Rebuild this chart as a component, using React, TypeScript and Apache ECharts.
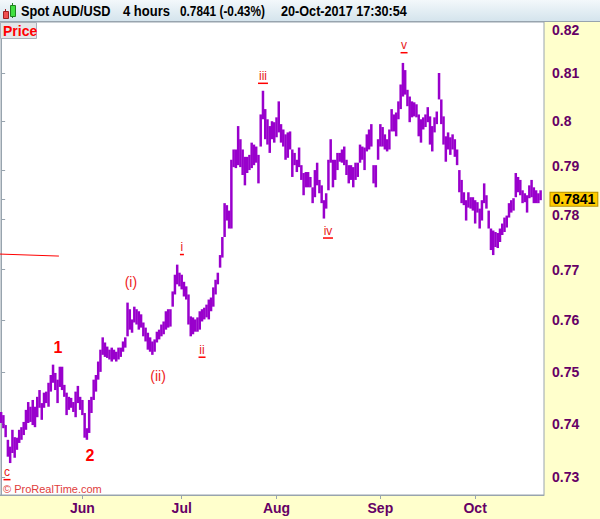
import React, { useEffect, useRef } from 'react';
import * as echarts from 'echarts';

// 12-hour high/low bars (AUD/USD, 8 May – 20 Oct 2017)
const barHighs = [
  0.7423, 0.7417, 0.7398, 0.7370, 0.7357, 0.7389, 0.7375, 0.7374, 0.7389, 0.7394,
  0.7404, 0.7427, 0.7442, 0.7433, 0.7446, 0.7433, 0.7452, 0.7465, 0.7440, 0.7460,
  0.7462, 0.7479, 0.7494, 0.7514, 0.7498, 0.7485, 0.7510, 0.7510, 0.7475, 0.7460,
  0.7452, 0.7450, 0.7442, 0.7462, 0.7473, 0.7452, 0.7446, 0.7421, 0.7392, 0.7446,
  0.7452, 0.7485, 0.7494, 0.7520, 0.7543, 0.7567, 0.7557, 0.7549, 0.7543, 0.7547,
  0.7543, 0.7539, 0.7547, 0.7547, 0.7559, 0.7567, 0.7635, 0.7622, 0.7602, 0.7627,
  0.7622, 0.7618, 0.7612, 0.7596, 0.7586, 0.7576, 0.7567, 0.7559, 0.7563, 0.7578,
  0.7582, 0.7592, 0.7598, 0.7618, 0.7622, 0.7622, 0.7657, 0.7690, 0.7710, 0.7694,
  0.7690, 0.7676, 0.7667, 0.7651, 0.7608, 0.7606, 0.7602, 0.7606, 0.7618, 0.7622,
  0.7625, 0.7631, 0.7641, 0.7645, 0.7665, 0.7680, 0.7694, 0.7729, 0.7765, 0.7833,
  0.7829, 0.7818, 0.7921, 0.7942, 0.7942, 0.7990, 0.7963, 0.7942, 0.7927, 0.7927,
  0.7931, 0.7956, 0.7952, 0.7948, 0.7931, 0.8014, 0.8063, 0.8025, 0.8004, 0.7990,
  0.8000, 0.7998, 0.8008, 0.8041, 0.7994, 0.7983, 0.7973, 0.7977, 0.7979, 0.7942,
  0.7935, 0.7921, 0.7946, 0.7910, 0.7894, 0.7896, 0.7896, 0.7886, 0.7865, 0.7900,
  0.7915, 0.7880, 0.7869, 0.7839, 0.7853, 0.7921, 0.7963, 0.7921, 0.7921, 0.7935,
  0.7935, 0.7942, 0.7948, 0.7921, 0.7910, 0.7910, 0.7906, 0.7915, 0.7915, 0.7952,
  0.7948, 0.7946, 0.7973, 0.7983, 0.7994, 0.7910, 0.7910, 0.7963, 0.7994, 0.7988,
  0.7973, 0.7963, 0.7983, 0.8025, 0.8014, 0.8018, 0.8041, 0.8076, 0.8121, 0.8106,
  0.8065, 0.8051, 0.8041, 0.8039, 0.8035, 0.8014, 0.8004, 0.8008, 0.8014, 0.8029,
  0.8010, 0.7990, 0.8008, 0.8020, 0.8100, 0.8045, 0.8010, 0.7969, 0.7977, 0.7967,
  0.7973, 0.7963, 0.7942, 0.7900, 0.7880, 0.7855, 0.7839, 0.7855, 0.7845, 0.7845,
  0.7839, 0.7835, 0.7822, 0.7839, 0.7873, 0.7849, 0.7818, 0.7782, 0.7778, 0.7775,
  0.7773, 0.7782, 0.7792, 0.7804, 0.7808, 0.7833, 0.7839, 0.7843, 0.7894, 0.7886,
  0.7880, 0.7859, 0.7853, 0.7849, 0.7869, 0.7880, 0.7865, 0.7859, 0.7853, 0.7859,
];
const barLows = [
  0.7402, 0.7392, 0.7375, 0.7338, 0.7326, 0.7345, 0.7336, 0.7351, 0.7364, 0.7370,
  0.7379, 0.7389, 0.7402, 0.7404, 0.7398, 0.7394, 0.7413, 0.7431, 0.7408, 0.7431,
  0.7440, 0.7433, 0.7462, 0.7479, 0.7465, 0.7440, 0.7471, 0.7465, 0.7452, 0.7417,
  0.7427, 0.7431, 0.7423, 0.7413, 0.7440, 0.7427, 0.7417, 0.7374, 0.7370, 0.7383,
  0.7421, 0.7446, 0.7462, 0.7485, 0.7500, 0.7533, 0.7529, 0.7527, 0.7524, 0.7520,
  0.7524, 0.7520, 0.7524, 0.7529, 0.7539, 0.7547, 0.7569, 0.7582, 0.7576, 0.7596,
  0.7592, 0.7582, 0.7586, 0.7569, 0.7559, 0.7543, 0.7539, 0.7533, 0.7539, 0.7557,
  0.7563, 0.7569, 0.7573, 0.7582, 0.7586, 0.7588, 0.7627, 0.7651, 0.7671, 0.7667,
  0.7661, 0.7647, 0.7641, 0.7592, 0.7569, 0.7573, 0.7578, 0.7578, 0.7582, 0.7598,
  0.7602, 0.7606, 0.7602, 0.7618, 0.7627, 0.7651, 0.7671, 0.7704, 0.7724, 0.7765,
  0.7798, 0.7782, 0.7782, 0.7906, 0.7904, 0.7910, 0.7906, 0.7890, 0.7869, 0.7894,
  0.7900, 0.7904, 0.7910, 0.7915, 0.7873, 0.7948, 0.8004, 0.7963, 0.7952, 0.7935,
  0.7963, 0.7956, 0.7967, 0.7977, 0.7956, 0.7948, 0.7921, 0.7925, 0.7942, 0.7886,
  0.7910, 0.7896, 0.7906, 0.7880, 0.7849, 0.7865, 0.7865, 0.7865, 0.7833, 0.7845,
  0.7869, 0.7853, 0.7833, 0.7802, 0.7822, 0.7859, 0.7915, 0.7865, 0.7880, 0.7900,
  0.7917, 0.7915, 0.7910, 0.7890, 0.7873, 0.7880, 0.7865, 0.7880, 0.7886, 0.7915,
  0.7921, 0.7900, 0.7938, 0.7942, 0.7948, 0.7873, 0.7865, 0.7921, 0.7948, 0.7948,
  0.7942, 0.7938, 0.7942, 0.7979, 0.7979, 0.7969, 0.8004, 0.8025, 0.8051, 0.8055,
  0.8031, 0.7998, 0.8008, 0.8010, 0.8008, 0.7969, 0.7956, 0.7983, 0.7988, 0.7998,
  0.7952, 0.7938, 0.7977, 0.7994, 0.8045, 0.7994, 0.7952, 0.7917, 0.7942, 0.7931,
  0.7942, 0.7927, 0.7910, 0.7855, 0.7833, 0.7829, 0.7798, 0.7824, 0.7822, 0.7818,
  0.7792, 0.7814, 0.7782, 0.7798, 0.7833, 0.7822, 0.7782, 0.7739, 0.7729, 0.7745,
  0.7743, 0.7755, 0.7769, 0.7775, 0.7784, 0.7804, 0.7814, 0.7818, 0.7845, 0.7855,
  0.7849, 0.7833, 0.7835, 0.7814, 0.7843, 0.7845, 0.7833, 0.7833, 0.7833, 0.7839,
];

const monthLabels = ['Jun', 'Jul', 'Aug', 'Sep', 'Oct'];
const monthStartBars = [36, 80, 122, 168, 210];
const priceTicks = [0.73, 0.74, 0.75, 0.76, 0.77, 0.78, 0.79, 0.8, 0.81, 0.82];
const axisPriceRange = [0.7266, 0.8207];
const lastPrice = 0.7841;
const headerTexts = ['Spot AUD/USD', '4 hours', '0.7841 (-0.43%)', '20-Oct-2017 17:30:54'];

const waveLabels = ['c', '1', '2', '(i)', '(ii)', 'i', 'ii', 'iii', 'iv', 'v'];
const waveBars = [2.6, 25.2, 39.4, 57.5, 69.5, 80.1, 89.0, 116.0, 144.8, 178.5];
const wavePrices = [0.7307, 0.7547, 0.7341, 0.7676, 0.7492, 0.7743, 0.7541, 0.8092, 0.7776, 0.8156];
const waveKinds = ['minor', 'major', 'major', 'paren', 'paren', 'minor', 'minor', 'minor', 'minor', 'minor'];

const trendBars = [-0.5, 25.6];
const trendPrices = [0.7731, 0.7727];

// layout of the header line (left edge and width of each text piece)
const headerLeft = [21, 123, 180, 281];
const headerWidth = [90, 47, 85, 126];

const FONT = '"Liberation Sans", Arial, Helvetica, sans-serif';
const HEADER_FONT = `bold 15px ${FONT}`;
const AXIS_COLOR = '#660066';
const BORDER = '#98a4ae';
const RED = '#ff0000';

function measure(text: string, font: string): number {
  try {
    const ctx = document.createElement('canvas').getContext('2d');
    if (!ctx) return text.length * 8;
    ctx.font = font;
    return ctx.measureText(text).width || text.length * 8;
  } catch (e) {
    return text.length * 8;
  }
}

const underlineWidth = (t: string) =>
  t.split('').reduce((s, ch) => s + (ch === 'i' ? 3 : 6), 0) + 1;

function waveItem(k: number) {
  const t = waveLabels[k];
  const kind = waveKinds[k];
  let label: any;
  if (kind === 'minor') {
    label = {
      show: true,
      position: 'inside',
      formatter: () => `{t|${t}}\n{u|}`,
      rich: {
        t: { fontSize: 12, lineHeight: 13, color: '#e82020', fontFamily: FONT, align: 'center' },
        u: { width: underlineWidth(t), height: 1.5, backgroundColor: RED, align: 'center' },
      },
    };
  } else if (kind === 'major') {
    label = {
      show: true,
      position: 'inside',
      formatter: () => t,
      color: RED,
      fontSize: 16,
      fontWeight: 'bold',
      fontFamily: FONT,
    };
  } else {
    label = {
      show: true,
      position: 'inside',
      formatter: () => t,
      color: '#ee2222',
      fontSize: 14,
      fontFamily: FONT,
    };
  }
  return {
    coord: [waveBars[k], Math.log(wavePrices[k])],
    symbol: 'rect',
    symbolSize: 1,
    itemStyle: { color: 'rgba(0,0,0,0)' },
    label,
  };
}

const yTickValues = priceTicks.map((p) => Math.log(p));

function buildOption(): any {
  const headerEls = headerTexts.map((t, k) => ({
    type: 'text',
    z: 103,
    x: headerLeft[k],
    y: 11,
    scaleX: headerWidth[k] / measure(t, HEADER_FONT),
    style: {
      text: t,
      fill: '#000000',
      font: HEADER_FONT,
      verticalAlign: 'middle',
      align: 'left',
    },
  }));

  const axisText = { color: AXIS_COLOR, fontWeight: 'bold', fontSize: 14, fontFamily: FONT };

  return {
    animation: false,
    backgroundColor: '#ffffcc',
    grid: {
      left: 0,
      top: 22,
      right: 56,
      bottom: 24,
      show: true,
      backgroundColor: '#ffffff',
      borderColor: BORDER,
      borderWidth: 1,
    },
    xAxis: {
      type: 'value',
      min: -0.5,
      max: 240.5,
      splitLine: { show: false },
      axisLine: { show: true, lineStyle: { color: BORDER } },
      axisTick: { show: true, customValues: monthStartBars, length: 4, lineStyle: { color: BORDER } },
      axisLabel: {
        show: true,
        customValues: monthStartBars,
        formatter: (v: number) => {
          const k = monthStartBars.indexOf(Math.round(v));
          return k >= 0 ? monthLabels[k] : '';
        },
        ...axisText,
        margin: 6,
      },
    },
    yAxis: {
      type: 'value',
      position: 'right',
      min: Math.log(axisPriceRange[0]),
      max: Math.log(axisPriceRange[1]),
      splitLine: { show: false },
      axisLine: { show: true, lineStyle: { color: BORDER } },
      axisTick: {
        show: true,
        customValues: [...yTickValues, Math.log(lastPrice)],
        length: 4,
        lineStyle: { color: BORDER },
      },
      axisLabel: {
        show: true,
        customValues: yTickValues,
        formatter: (v: number) => {
          const p = +Math.exp(v).toFixed(2);
          const s = String(p);
          if (p === priceTicks[priceTicks.length - 1]) return `{down|${s}}`;
          if (Math.abs(p - lastPrice) < 0.006) return `{up|${s}}`;
          return s;
        },
        rich: {
          down: { ...axisText, padding: [10, 0, 0, 0] },
          up: { ...axisText, padding: [0, 0, 9, 0] },
        },
        ...axisText,
        margin: 8,
      },
    },
    series: [
      {
        type: 'custom',
        silent: true,
        data: barHighs.map((h, i) => [i, Math.log(h), Math.log(barLows[i])]),
        encode: { x: 0, y: [1, 2] },
        renderItem: (params: any, api: any) => {
          const i = api.value(0);
          const top = api.coord([i, api.value(1)]);
          const bot = api.coord([i, api.value(2)]);
          return {
            type: 'line',
            shape: { x1: top[0], y1: top[1], x2: bot[0], y2: bot[1] },
            style: { stroke: '#9900cc', lineWidth: 2.5 },
          };
        },
        markPoint: {
          silent: true,
          data: [
            ...waveLabels.map((_, k) => waveItem(k)),
            {
              coord: [240.5, Math.log(lastPrice)],
              symbol: 'rect',
              symbolSize: 1,
              itemStyle: { color: 'rgba(0,0,0,0)' },
              label: {
                show: true,
                position: 'right',
                distance: 6,
                formatter: () => lastPrice.toFixed(4),
                color: '#000000',
                fontWeight: 'bold',
                fontSize: 14,
                fontFamily: FONT,
                backgroundColor: '#ffcc00',
                borderColor: '#b89200',
                borderWidth: 1,
                padding: [0, 2, 0, 2],
                lineHeight: 13,
              },
            },
          ],
        },
        markLine: {
          silent: true,
          symbol: ['none', 'none'],
          data: [
            [
              {
                coord: [trendBars[0], Math.log(trendPrices[0])],
                lineStyle: { color: RED, width: 1, type: 'solid' },
                label: { show: false },
              },
              { coord: [trendBars[1], Math.log(trendPrices[1])] },
            ],
          ],
        },
      },
    ],
    graphic: {
      elements: [
        {
          type: 'rect',
          z: 100,
          left: 0,
          top: 0,
          shape: { width: 600, height: 22 },
          style: {
            fill: new echarts.graphic.LinearGradient(0, 0, 0, 1, [
              { offset: 0, color: '#f3f8fb' },
              { offset: 1, color: '#d3e3ec' },
            ]),
          },
        },
        {
          type: 'rect',
          z: 101,
          left: 0,
          top: 21,
          shape: { width: 600, height: 1 },
          style: { fill: BORDER },
        },
        // small candlestick icon
        { type: 'rect', z: 101, left: 5, top: 9, shape: { width: 1, height: 10 }, style: { fill: '#a02020' } },
        { type: 'rect', z: 102, left: 3, top: 11, shape: { width: 5, height: 7 }, style: { fill: '#f05050', stroke: '#a02020', lineWidth: 1 } },
        { type: 'rect', z: 101, left: 12, top: 3, shape: { width: 1, height: 15 }, style: { fill: '#208020' } },
        { type: 'rect', z: 102, left: 10, top: 5, shape: { width: 5, height: 11 }, style: { fill: '#40e040', stroke: '#208020', lineWidth: 1 } },
        ...headerEls,
        {
          type: 'rect',
          z: 100,
          left: 0,
          top: 22,
          shape: { width: 36, height: 16 },
          style: { fill: '#e4e6e8', stroke: '#a8b0b8', lineWidth: 1 },
        },
        {
          type: 'text',
          z: 101,
          left: 3,
          top: 24,
          style: { text: 'Price', fill: RED, font: `bold 14px ${FONT}` },
        },
        {
          type: 'text',
          z: 101,
          left: 3,
          top: 483,
          style: { text: '© ProRealTime.com', fill: '#e03c3c', font: `11px ${FONT}` },
        },
      ],
    },
  };
}

export default function App() {
  const ref = useRef<HTMLDivElement>(null);
  useEffect(() => {
    if (!ref.current) return;
    const chart = echarts.init(ref.current, undefined, { renderer: 'svg' });
    chart.setOption(buildOption());
    return () => chart.dispose();
  }, []);
  return (
    <div
      ref={ref}
      style={{ position: 'fixed', left: 0, top: 0, width: 600, height: 519, background: '#ffffff' }}
    />
  );
}
